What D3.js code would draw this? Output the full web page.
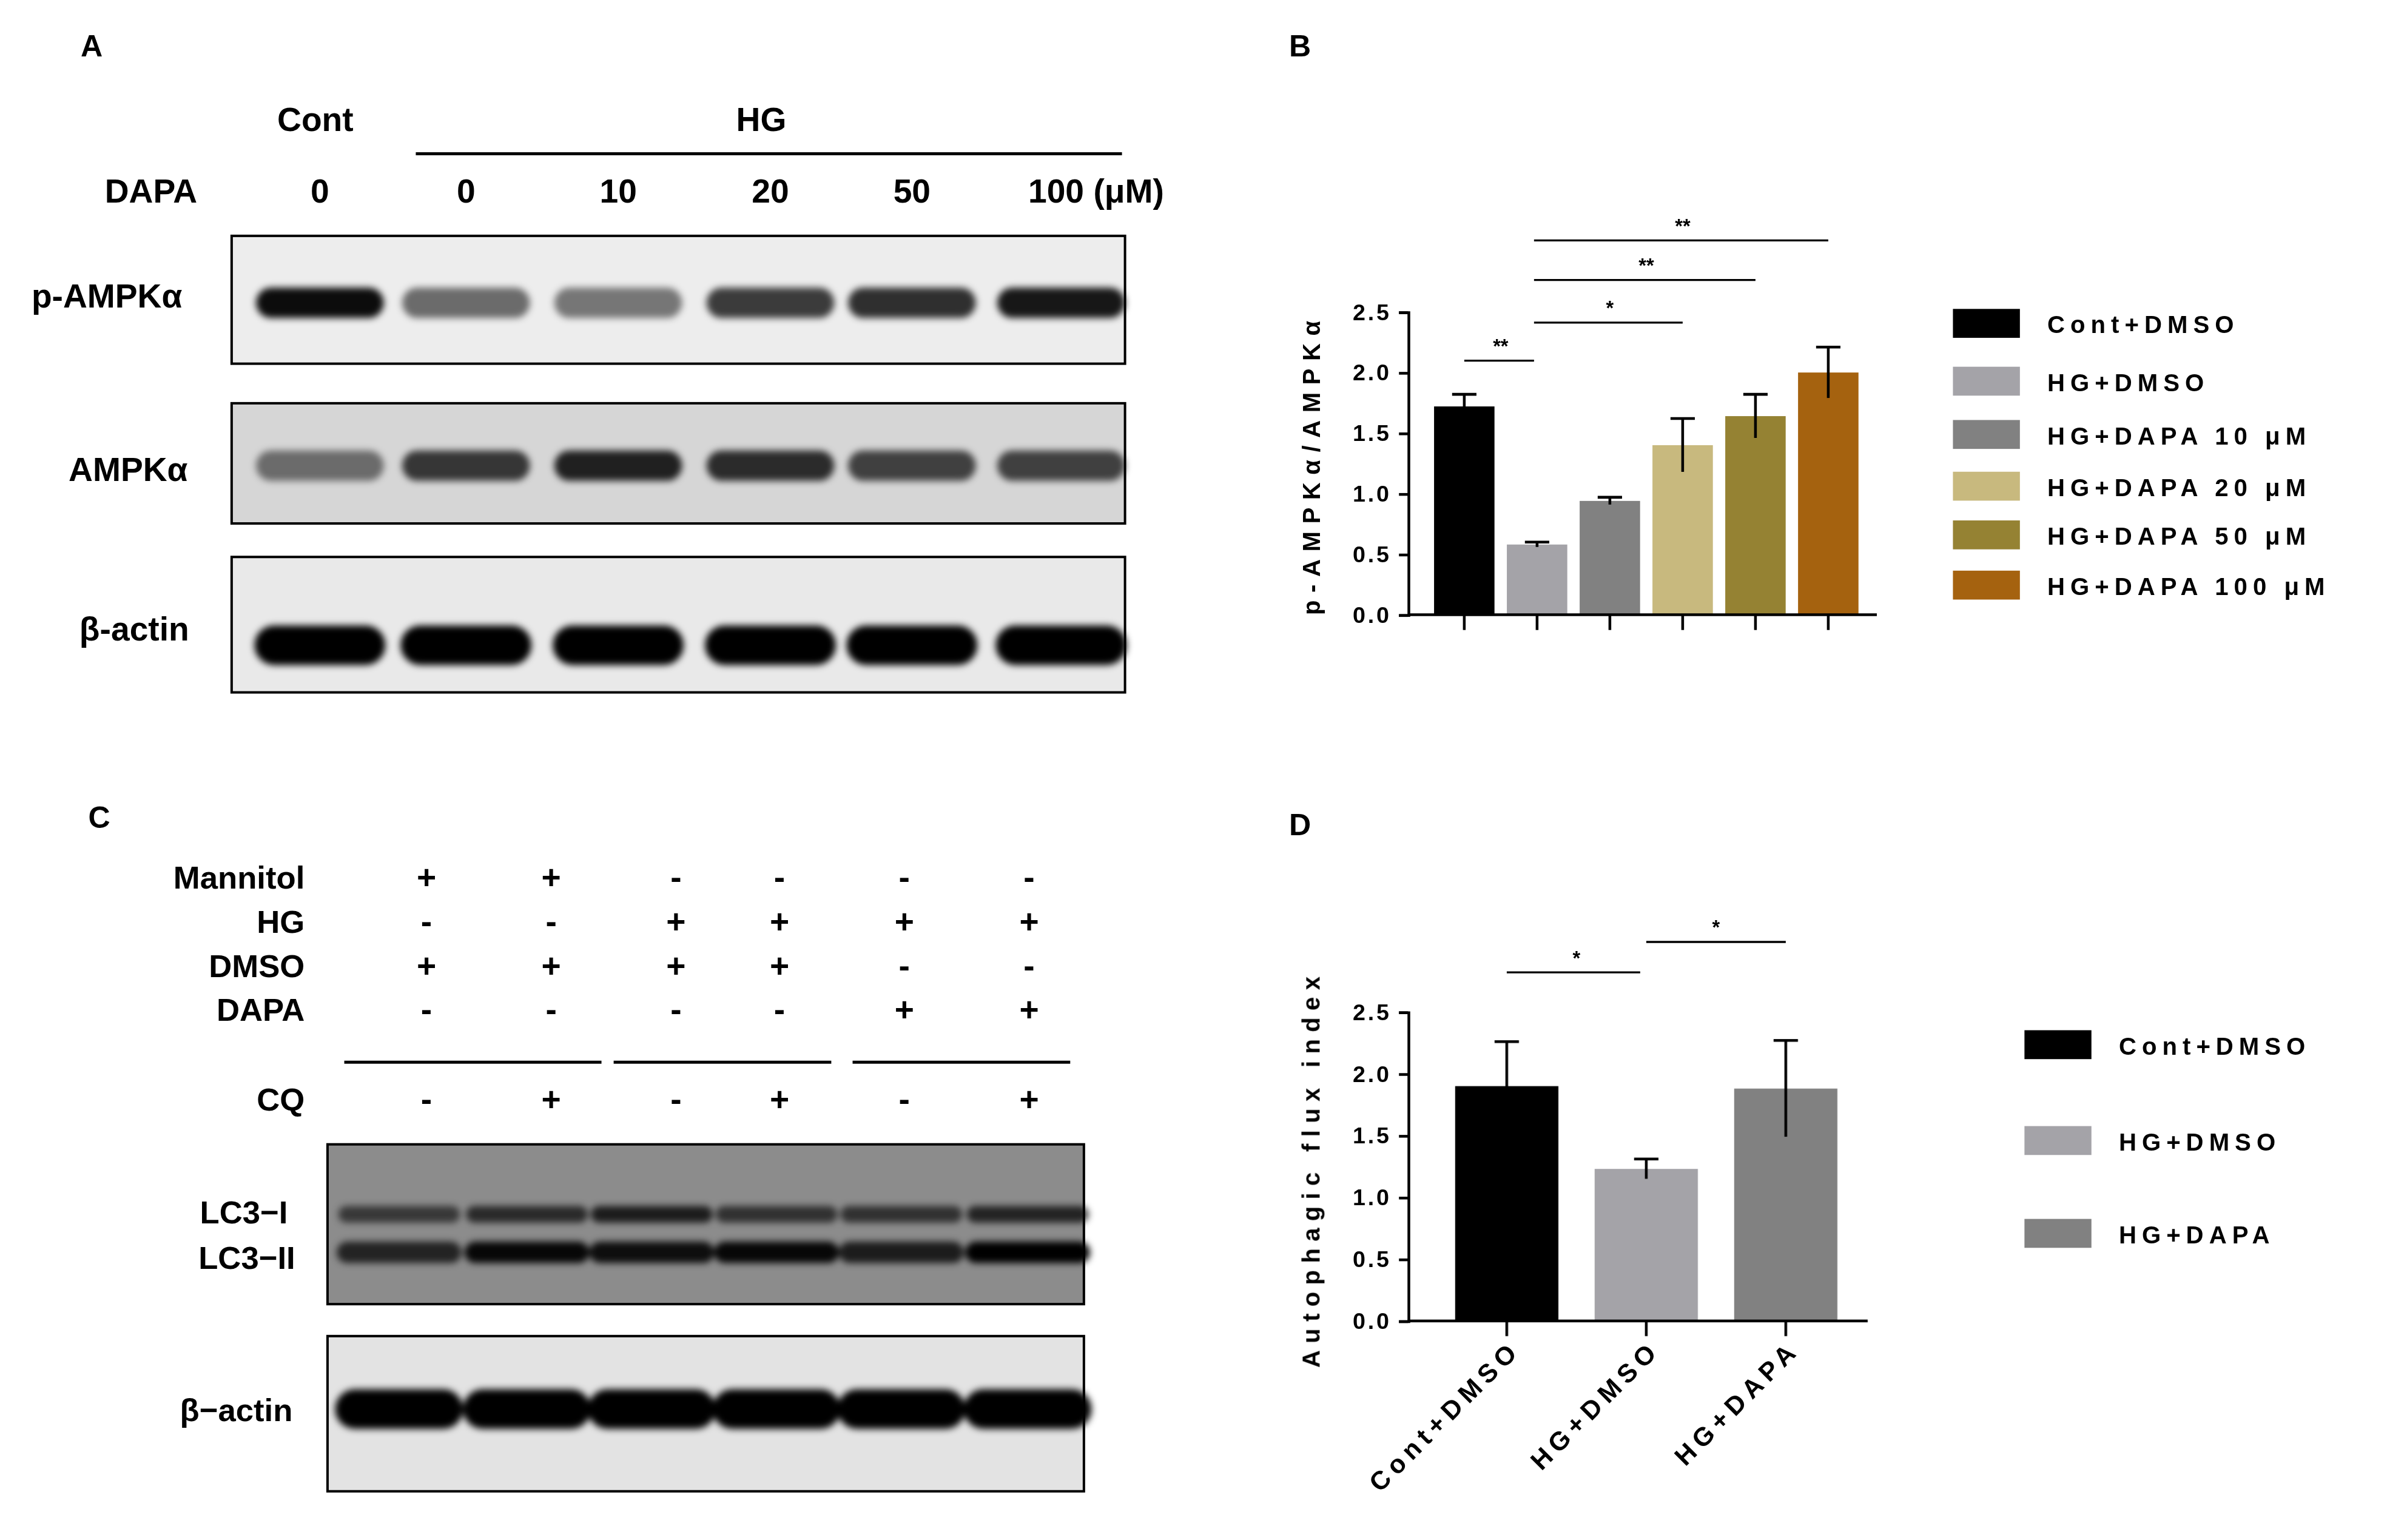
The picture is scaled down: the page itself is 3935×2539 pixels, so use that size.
<!DOCTYPE html>
<html><head><meta charset="utf-8">
<script src="https://cdn.jsdelivr.net/npm/d3@7"></script>
<style>
body{margin:0;background:#fff}
text{font-family:"Liberation Sans Narrow","Liberation Sans",Arial,sans-serif;font-weight:bold;fill:#000}
.sp text{font-family:"Liberation Sans",Arial,sans-serif;letter-spacing:3.6px}
</style></head><body>
<svg id="fig" width="3935" height="2539" viewBox="0 0 1568 1012"></svg>
<script>
// ---- data ----
var groupsB = ["Cont+DMSO","HG+DMSO","HG+DAPA 10 μM","HG+DAPA 20 μM","HG+DAPA 50 μM","HG+DAPA 100 μM"];
var meansB = [1.72, 0.58, 0.94, 1.40, 1.64, 2.00];
var errB = [0.10, 0.02, 0.03, 0.22, 0.18, 0.21];
var colorsB = ["#000000","#a4a3a8","#818181","#c8b97e","#958233","#a5620f"];
var groupsD = ["Cont+DMSO","HG+DMSO","HG+DAPA"];
var meansD = [1.90, 1.23, 1.88];
var errD = [0.36, 0.08, 0.39];
var colorsD = ["#000000","#a4a3a8","#818181"];
var yTicks = [0, 0.5, 1.0, 1.5, 2.0, 2.5];
var dapaLanes = ["0","0","10","20","50","100 (μM)"];
var pAmpk = [0.95, 0.55, 0.5, 0.75, 0.8, 0.9];
var ampk = [0.5, 0.75, 0.85, 0.8, 0.7, 0.7];
var actinA = [1, 1, 1, 1, 1, 1];
var condRows = ["Mannitol","HG","DMSO","DAPA"];
var condSigns = [["+","+","-","-","-","-"],["-","-","+","+","+","+"],["+","+","+","+","-","-"],["-","-","-","-","+","+"]];
var cqSigns = ["-","+","-","+","-","+"];
var lc3I = [0.6, 0.7, 0.8, 0.65, 0.65, 0.75];
var lc3II = [0.75, 0.95, 0.9, 0.95, 0.8, 1];
var actinC = [1, 1, 1, 1, 1, 1];

var svg = d3.select("#fig");
var defs = svg.append("defs");
defs.append("filter").attr("id","blur").attr("x","-20%").attr("y","-50%").attr("width","140%").attr("height","200%")
  .append("feGaussianBlur").attr("stdDeviation", 2.4);

function label(x, y, t, size, anchor){
  return svg.append("text").attr("x",x).attr("y",y).attr("font-size",size||20)
    .attr("text-anchor",anchor||"middle").text(t);
}

// ---- blots ----
function blot(x0, x1, y0, y1, bg, lanes, rows){
  svg.append("rect").attr("x",x0).attr("y",y0).attr("width",x1-x0).attr("height",y1-y0)
    .attr("fill",bg).attr("stroke","#000").attr("stroke-width",1.6);
  var g = svg.append("g").attr("filter","url(#blur)");
  rows.forEach(function(r){
    r.vals.forEach(function(v,i){
      g.append("rect").attr("x",lanes[i]-r.w/2).attr("y",r.y-r.h/2).attr("width",r.w).attr("height",r.h)
        .attr("rx",r.h/2).attr("fill","#000").attr("opacity",v);
    });
  });
}

// Panel A
label(60,37,"A",20);
label(207,86,"Cont",22); label(500,86,"HG",22);
svg.append("line").attr("x1",273).attr("x2",737).attr("y1",101).attr("y2",101).attr("stroke","#000").attr("stroke-width",2);
var lanesA = [210,306,406,506,599,697];
label(99,133,"DAPA",22);
dapaLanes.forEach(function(t,i){ label(i==5?720:lanesA[i],133,t,22); });
blot(152,739,155,239,"#ededed",lanesA,[{y:199,h:20,w:84,vals:pAmpk}]);
blot(152,739,265,344,"#d6d6d6",lanesA,[{y:306,h:20,w:84,vals:ampk}]);
blot(152,739,366,455,"#e9e9e9",lanesA,[{y:424,h:26,w:86,vals:actinA}]);
label(70,202,"p-AMPKα",22); label(84,316,"AMPKα",22); label(88,421,"β-actin",22);

// Panel C
label(65,544,"C",20);
var lanesC = [280,362,444,512,594,676];
condRows.forEach(function(r,j){
  var y = 584 + j*29;
  label(200,y,r,21,"end");
  condSigns[j].forEach(function(s,i){ label(lanesC[i],y,s,22); });
});
label(200,730,"CQ",21,"end");
cqSigns.forEach(function(s,i){ label(lanesC[i],730,s,22); });
[[226,395],[403,546],[560,703]].forEach(function(d){
  svg.append("line").attr("x1",d[0]).attr("x2",d[1]).attr("y1",698).attr("y2",698).attr("stroke","#000").attr("stroke-width",2);
});
var lanesC2 = [262,346,428,510,592,675];
blot(215,712,752,857,"#8c8c8c",lanesC2,[{y:798,h:11,w:80,vals:lc3I},{y:823,h:14,w:82,vals:lc3II}]);
blot(215,712,878,980,"#e3e3e3",lanesC2,[{y:926,h:26,w:84,vals:actinC}]);
label(160,804,"LC3−I",21); label(162,834,"LC3−II",21); label(155,934,"β−actin",21);

// ---- bar charts ----
function barChart(o){
  var g = svg.append("g").attr("class","sp");
  var y = d3.scaleLinear().domain([0,2.5]).range([o.y0,o.y1]);
  var x = d3.scaleBand().domain(o.groups).range([o.x0,o.x1]).paddingInner(o.pad).paddingOuter(o.pad/2);
  g.append("g").attr("transform","translate("+o.axX+",0)")
    .call(d3.axisLeft(y).tickValues(yTicks).tickFormat(d3.format(".1f")).tickSize(6))
    .call(function(a){ a.selectAll("text").attr("font-size",15).attr("dx",-2).style("letter-spacing","1.5px");
      a.selectAll("line,path").attr("stroke","#000").attr("stroke-width",1.8); });
  g.selectAll("rect.bar").data(o.means).enter().append("rect")
    .attr("x",function(d,i){return x(o.groups[i]);}).attr("width",x.bandwidth())
    .attr("y",function(d){return y(d);}).attr("height",function(d){return y(0)-y(d);})
    .attr("fill",function(d,i){return o.colors[i];});
  o.means.forEach(function(m,i){
    var cx = x(o.groups[i]) + x.bandwidth()/2;
    g.append("line").attr("x1",cx).attr("x2",cx).attr("y1",y(m-o.err[i])).attr("y2",y(m+o.err[i])).attr("stroke","#000").attr("stroke-width",1.8);
    g.append("line").attr("x1",cx-8).attr("x2",cx+8).attr("y1",y(m+o.err[i])).attr("y2",y(m+o.err[i])).attr("stroke","#000").attr("stroke-width",1.8);
    g.append("line").attr("x1",cx).attr("x2",cx).attr("y1",o.y0).attr("y2",o.y0+10).attr("stroke","#000").attr("stroke-width",1.8);
  });
  g.append("line").attr("x1",o.axX).attr("x2",o.x1+8).attr("y1",o.y0).attr("y2",o.y0).attr("stroke","#000").attr("stroke-width",1.8);
  g.append("text").attr("transform","translate("+o.labX+","+o.labY+") rotate(-90)")
    .attr("text-anchor","middle").attr("font-size",16).style("letter-spacing",o.labSp).text(o.ylab);
  o.sig.forEach(function(s){
    var a = x(o.groups[s[0]])+x.bandwidth()/2, b = x(o.groups[s[1]])+x.bandwidth()/2;
    g.append("line").attr("x1",a+s[3]).attr("x2",b+s[4]).attr("y1",s[2]).attr("y2",s[2]).attr("stroke","#000").attr("stroke-width",1.3);
    g.append("text").attr("x",(a+b)/2).attr("y",s[2]-5).attr("text-anchor","middle").attr("font-size",13).style("letter-spacing","0px").text(s[5]);
  });
  o.groups.forEach(function(t,i){
    g.append("rect").attr("x",o.legX).attr("y",o.legY[i]-10).attr("width",44).attr("height",19).attr("fill",o.colors[i]);
    g.append("text").attr("x",o.legX+62).attr("y",o.legY[i]+6).attr("font-size",16).text(t);
  });
  return x;
}

label(854,37,"B",20);
barChart({groups:groupsB,means:meansB,err:errB,colors:colorsB,x0:938,x1:1225,pad:0.17,axX:925,y0:404,y1:205,
  labX:867,labY:305,labSp:"5px",ylab:"p-AMPKα/AMPKα",legX:1283,legY:[213,251,286,320,352,385],
  sig:[[0,1,237,0,-2,"**"],[1,3,212,-2,0,"*"],[1,4,184,-2,0,"**"],[1,5,158,-2,0,"**"]]});

label(854,549,"D",20);
var xD = barChart({groups:groupsD,means:meansD,err:errD,colors:colorsD,x0:944,x1:1219,pad:0.26,axX:925,y0:868,y1:665,
  labX:867,labY:768,labSp:"4.5px",ylab:"Autophagic flux index",legX:1330,legY:[687,750,811],
  sig:[[0,1,639,0,-4,"*"],[1,2,619,0,0,"*"]]});
groupsD.forEach(function(t,i){
  var cx = xD(t)+xD.bandwidth()/2;
  svg.append("g").attr("class","sp").append("text")
    .attr("transform","translate("+(cx+10)+",888) rotate(-45)").attr("text-anchor","end").attr("font-size",17).text(t);
});
</script></body></html>
